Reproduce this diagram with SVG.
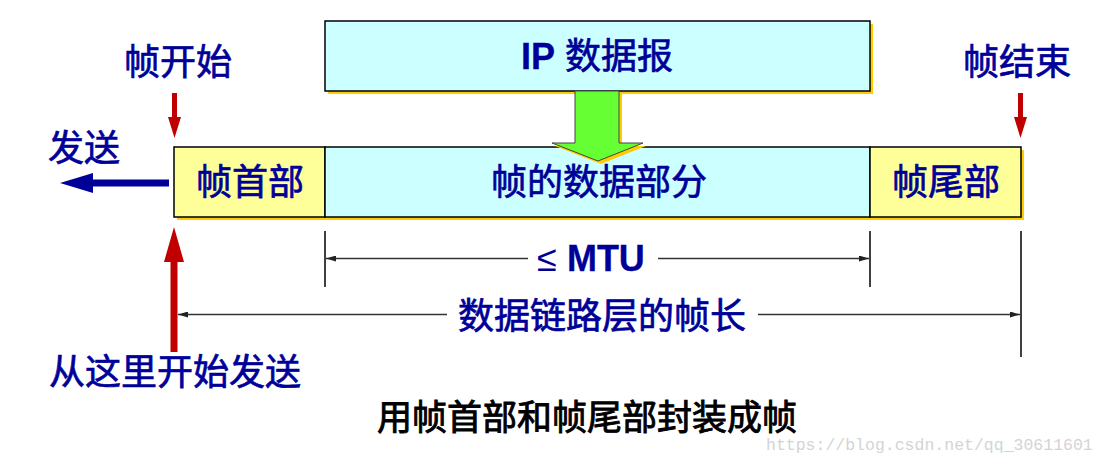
<svg xmlns="http://www.w3.org/2000/svg" width="1106" height="465" viewBox="0 0 1106 465">
<style>
.box{stroke:#000;stroke-width:1.5}
.hdr{fill:#ffff99}
.dat{fill:#ccffff}
.shd{fill:#ffcc00}
.lbl{font-family:"Liberation Sans","Noto Sans CJK SC",sans-serif;font-size:36px;fill:#000099;stroke:#000099;stroke-width:0.7;text-anchor:middle}
.cap{font-family:"Liberation Sans","Noto Sans CJK SC",sans-serif;font-size:35px;fill:#000;stroke:#000;stroke-width:0.9;text-anchor:middle}
.b{stroke-width:0.3;font-weight:bold}
.dim{stroke:#333;stroke-width:1.4;fill:none}
.tick{stroke:#000;stroke-width:1.5}
.red{fill:#c00000}
.wm{font-family:"Liberation Mono",monospace;font-size:16.5px;fill:#d4d4d4}
</style>
<defs>
<marker id="ah" viewBox="0 0 10 6" refX="10" refY="3" markerWidth="10" markerHeight="6" markerUnits="userSpaceOnUse" orient="auto">
<path d="M0,0 L10,3 L0,6 Z" fill="#222"/>
</marker>
</defs>
<rect width="1106" height="465" fill="#fff"/>

<g id="ip-datagram">
<rect class="shd" x="328" y="24" width="545" height="70"/>
<rect class="box dat" x="325" y="21" width="545" height="70"/>
<text class="lbl" x="597" y="69"><tspan class="b">IP</tspan> 数据报</text>
</g>

<g id="frame-header">
<rect class="shd" x="177" y="150" width="151" height="70"/>
<rect class="box hdr" x="174" y="147" width="151" height="70"/>
<text class="lbl" x="250" y="195">帧首部</text>
</g>

<g id="frame-data">
<rect class="shd" x="328" y="150" width="545" height="70"/>
<rect class="box dat" x="325" y="147" width="545" height="70"/>
<text class="lbl" x="599" y="195">帧的数据部分</text>
</g>

<g id="frame-trailer">
<rect class="shd" x="873" y="150" width="151" height="70"/>
<rect class="box hdr" x="870" y="147" width="151" height="70"/>
<text class="lbl" x="946" y="195">帧尾部</text>
</g>

<g id="encap-arrow">
<polygon class="shd" points="578,94 622,94 622,146 646,146 601,164 555,146 578,146"/>
<polygon points="575,91 619,91 619,143 643,143 598,161 552,143 575,143" fill="#66ff33" stroke="#444" stroke-width="1"/>
</g>

<g id="label-frame-start">
<text class="lbl" x="178" y="75">帧开始</text>
</g>
<g id="label-frame-end">
<text class="lbl" x="1017" y="75">帧结束</text>
</g>
<g id="label-send">
<text class="lbl" x="84" y="161">发送</text>
</g>
<g id="label-start-here">
<text class="lbl" x="175" y="385">从这里开始发送</text>
</g>
<g id="label-mtu">
<text class="lbl" x="591" y="271"><tspan stroke-width="0">≤</tspan> <tspan class="b">MTU</tspan></text>
</g>
<g id="label-frame-length">
<text class="lbl" x="602" y="329">数据链路层的帧长</text>
</g>
<g id="caption">
<text class="cap" x="587" y="430">用帧首部和帧尾部封装成帧</text>
</g>
<g id="watermark">
<text class="wm" x="766" y="450">https://blog.csdn.net/qq_30611601</text>
</g>

<g id="connectors">
<polygon class="red" points="172,93 177,93 177,117 181,117 174.5,138 168,117 172,117"/>
<polygon class="red" points="1018,93 1023,93 1023,117 1027,117 1020.5,138 1014,117 1018,117"/>
<polygon class="red" points="170.5,352 177.5,352 177.5,262 184,262 174,227 164,262 170.5,262"/>
<polygon fill="#000099" points="169,179.5 169,186.5 93,186.5 93,193 60,183 93,173 93,179.5"/>
<line class="tick" x1="325" y1="231" x2="325" y2="287"/>
<line class="tick" x1="870" y1="231" x2="870" y2="287"/>
<line class="tick" x1="1021" y1="231" x2="1021" y2="357"/>
<line class="dim" x1="528" y1="258.5" x2="326" y2="258.5" marker-end="url(#ah)"/>
<line class="dim" x1="658" y1="258.5" x2="869" y2="258.5" marker-end="url(#ah)"/>
<line class="dim" x1="447" y1="314.5" x2="178" y2="314.5" marker-end="url(#ah)"/>
<line class="dim" x1="758" y1="314.5" x2="1020" y2="314.5" marker-end="url(#ah)"/>
</g>
</svg>
